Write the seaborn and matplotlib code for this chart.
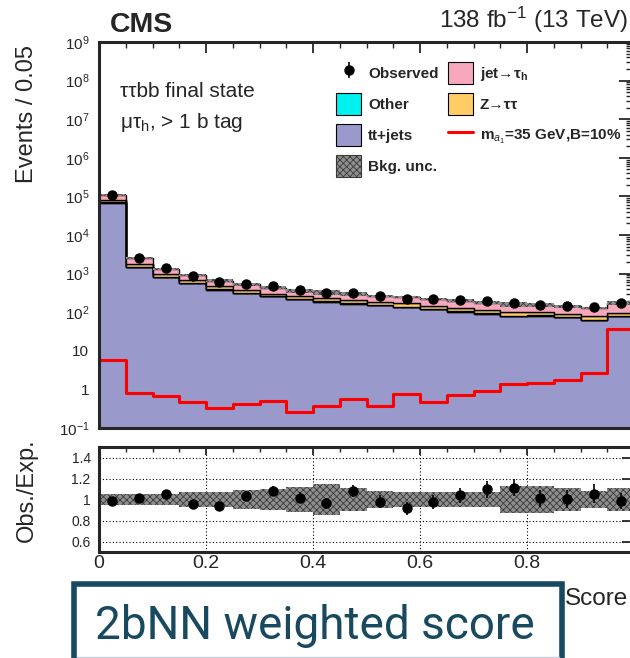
import numpy as np
import pandas as pd
import matplotlib
matplotlib.use("Agg")
import matplotlib.pyplot as plt
import seaborn as sns
from matplotlib.patches import Patch, Rectangle
from matplotlib.lines import Line2D
from matplotlib.ticker import FixedLocator, FixedFormatter, MultipleLocator, LogLocator, NullFormatter

# ---------------- data ----------------
bin_edges = np.round(np.arange(0, 1.0001, 0.05), 2)
tt_jets = [69000, 1480, 816, 570, 385, 314, 258, 216, 188, 167, 155, 136, 119, 104, 92, 80, 82, 74, 63, 80]
other = [1200, 30, 16, 11, 8, 6, 5, 4, 4, 3, 3, 3, 2, 2, 2, 2, 2, 1, 1, 2]
z_tautau = [12000, 300, 150, 105, 75, 65, 40, 38, 41, 33, 31, 30, 27, 25, 22, 20, 16, 15, 14, 16]
jet_fake = [28000, 720, 350, 230, 190, 145, 130, 105, 93, 95, 75, 76, 73, 68, 62, 57, 55, 51, 51, 75]
observed = [109000, 2560, 1405, 881, 617, 550, 469, 369, 314, 322, 258, 225, 216, 207, 195, 177, 157, 142, 136, 170]
bkg_unc_rel = [0.057, 0.057, 0.057, 0.07, 0.07, 0.09, 0.10, 0.115, 0.145, 0.105, 0.08, 0.07, 0.067, 0.075,
               0.075, 0.125, 0.125, 0.105, 0.085, 0.105]
signal = [5.7, 0.81, 0.69, 0.46, 0.33, 0.41, 0.49, 0.26, 0.37, 0.58, 0.37, 0.75, 0.48, 0.72, 0.93, 1.38,
          1.44, 1.8, 2.7, 36]

process_names = ["jet→τh", "Z→ττ", "Other", "tt+jets"]
process_colors = {"jet→τh": "#F8A8BC", "Z→ττ": "#FFCC66", "Other": "#00F2EE", "tt+jets": "#9999CC"}

main_yticks = [1e-1, 1, 10, 1e2, 1e3, 1e4, 1e5, 1e6, 1e7, 1e8, 1e9]
main_yticklabels = [r"$10^{-1}$", "1", "10", r"$10^{2}$", r"$10^{3}$", r"$10^{4}$", r"$10^{5}$",
                    r"$10^{6}$", r"$10^{7}$", r"$10^{8}$", r"$10^{9}$"]
ratio_yticks = [0.6, 0.8, 1.0, 1.2, 1.4]
ratio_yticklabels = ["0.6", "0.8", "1", "1.2", "1.4"]
xticks = [0, 0.2, 0.4, 0.6, 0.8, 1.0]
xticklabels = ["0", "0.2", "0.4", "0.6", "0.8", ""]

# ---------------- style ----------------
sns.set_style("white")
plt.rcParams["font.family"] = ["Liberation Sans", "DejaVu Sans"]
plt.rcParams["mathtext.fontset"] = "custom"
plt.rcParams["mathtext.rm"] = "Liberation Sans"
plt.rcParams["mathtext.it"] = "Liberation Sans:italic"
plt.rcParams["mathtext.bf"] = "Liberation Sans:bold"
plt.rcParams["hatch.linewidth"] = 0.6

W, H = 630, 658
def fx(px):
    return px / W
def fy(py):
    return 1 - py / H

fig = plt.figure(figsize=(W / 100, H / 100), dpi=100)
fig.patch.set_facecolor("white")
ax = fig.add_axes([fx(99), fy(428), 535 / W, 386 / H])
rax = fig.add_axes([fx(99), fy(552), 535 / W, 105 / H])

n_bins = len(bin_edges) - 1
centers = (bin_edges[:-1] + bin_edges[1:]) / 2
df = pd.DataFrame({
    "score": np.tile(centers, 4),
    "events": np.concatenate([jet_fake, z_tautau, other, tt_jets]),
    "process": np.repeat(process_names, n_bins),
})

sns.histplot(data=df, x="score", weights="events", hue="process", hue_order=process_names,
             palette=process_colors, multiple="stack", bins=n_bins, binrange=(0, 1), element="step",
             fill=True, alpha=1, edgecolor="black", linewidth=1.0, legend=False, ax=ax)

total = np.array(tt_jets) + np.array(other) + np.array(z_tautau) + np.array(jet_fake)
unc = np.array(bkg_unc_rel)
obs = np.array(observed, dtype=float)

unc_style = dict(fill=True, facecolor="#8e8e8e", edgecolor="#3a3a3a", hatch="xxxxx", linewidth=0)
ax.stairs(total * (1 + unc), bin_edges, baseline=total * (1 - unc), zorder=3, **unc_style)

sns.histplot(x=centers, weights=signal, bins=n_bins, binrange=(0, 1), element="step", fill=False,
             color="#FF0000", linewidth=2.2, ax=ax, zorder=4)

obs_handle = ax.errorbar(centers, obs, yerr=np.sqrt(obs), fmt="o", color="black", ms=6.5,
                         elinewidth=1.2, capsize=0, zorder=6)

ax.set_yscale("log")
ax.set_xlim(0, 1)
ax.set_ylim(1e-1, 1e9)
ax.set_xlabel("")
ax.set_ylabel("")
ax.yaxis.set_major_locator(FixedLocator(main_yticks))
ax.yaxis.set_major_formatter(FixedFormatter(main_yticklabels))
ax.yaxis.set_minor_locator(LogLocator(base=10, subs=np.arange(2, 10), numticks=100))
ax.yaxis.set_minor_formatter(NullFormatter())
ax.xaxis.set_major_locator(MultipleLocator(0.2))
ax.xaxis.set_minor_locator(MultipleLocator(0.05))
ax.tick_params(which="both", direction="in", top=True, right=True, bottom=False, labelbottom=False)
ax.tick_params(axis="y", which="major", length=11, width=1.3, labelsize=11, pad=7)
ax.tick_params(axis="y", which="minor", length=6, width=1.0)
ax.tick_params(axis="x", which="major", length=8, width=1.3)
ax.tick_params(axis="x", which="minor", length=4.5, width=1.0)
for s in ax.spines.values():
    s.set_linewidth(2.2)
    s.set_zorder(10)

# legend
handles = [obs_handle,
           Patch(facecolor=process_colors["Other"], edgecolor="black", lw=0.8),
           Patch(facecolor=process_colors["tt+jets"], edgecolor="black", lw=0.8),
           Patch(facecolor="#8e8e8e", edgecolor="#3a3a3a", hatch="xxxxx", lw=0.8),
           Patch(facecolor=process_colors["jet→τh"], edgecolor="black", lw=0.8),
           Patch(facecolor=process_colors["Z→ττ"], edgecolor="black", lw=0.8),
           Line2D([0], [0], color="#FF0000", lw=2.2)]
labels = ["Observed", "Other", "tt+jets", "Bkg. unc.",
          r"jet→$\mathregular{\tau_{h}}$", "Z→ττ", r"m$_{a_{1}}$=35 GeV,B=10%"]
ax.legend(handles, labels, ncol=2, loc="upper left", bbox_to_anchor=(0.443, 0.948), frameon=False,
          prop={"family": ["Liberation Sans", "DejaVu Sans"], "weight": "bold", "size": 11},
          handlelength=1.65, handleheight=1.8, labelspacing=0.62, handletextpad=0.45,
          columnspacing=0.6, borderpad=0, borderaxespad=0)

# ---------------- ratio panel ----------------
ratio = obs / total
ratio_err = np.sqrt(obs) / total
rax.stairs(1 + unc, bin_edges, baseline=1 - unc, zorder=2, **unc_style)
rax.errorbar(centers, ratio, yerr=ratio_err, fmt="o", color="black", ms=6.5, elinewidth=1.2,
             capsize=0, zorder=5)
rax.set_xlim(0, 1)
rax.set_ylim(0.5, 1.5)
rax.yaxis.set_major_locator(FixedLocator(ratio_yticks))
rax.yaxis.set_major_formatter(FixedFormatter(ratio_yticklabels))
rax.xaxis.set_major_locator(FixedLocator(xticks))
rax.xaxis.set_major_formatter(FixedFormatter(xticklabels))
rax.xaxis.set_minor_locator(MultipleLocator(0.05))
rax.tick_params(which="both", direction="in", top=True, right=True)
rax.tick_params(axis="y", which="major", length=8.5, width=1.3, labelsize=10, pad=6)
rax.tick_params(axis="x", which="major", length=6, width=1.3, labelsize=14, pad=2)
rax.tick_params(axis="x", which="minor", length=3.5, width=1.0)
rax.grid(True, which="major", linestyle=(0, (1, 2)), color="black", linewidth=0.8)
for s in rax.spines.values():
    s.set_linewidth(2.2)
    s.set_zorder(10)

# ---------------- texts ----------------
fig.text(fx(110), fy(31.7), "CMS", fontsize=20.5, fontweight="bold", ha="left", va="baseline")
fig.text(fx(628), fy(28.3), r"138 fb$^{-1}$ (13 TeV)", fontsize=17.5, ha="right", va="baseline")
fig.text(fx(120), fy(97), "ττbb final state", fontsize=15, ha="left", va="baseline")
fig.text(fx(120), fy(128), r"$\mathregular{\mu\tau_{h}}$, > 1 b tag", fontsize=15, ha="left", va="baseline")
fig.text(fx(27), fy(45), "Events / 0.05", rotation=90, fontsize=17, ha="center", va="top")
fig.text(fx(27), fy(490), "Obs./Exp.", rotation=90, fontsize=17, ha="center", va="center")
fig.text(fx(565), fy(605), "Score", fontsize=17.5, ha="left", va="baseline")

box = Rectangle((fx(74), fy(720)), (562 - 74) / W, (720 - 584) / H, transform=fig.transFigure,
                facecolor="white", edgecolor="#17495f", linewidth=4.0, zorder=20)
fig.patches.append(box)
fig.add_artist(Line2D([fx(77), fx(559)], [fy(657), fy(657)], transform=fig.transFigure,
                      color="#c5ced6", lw=1.0, zorder=21))
fig.text(fx(95), fy(638.5), "2bNN weighted score", fontsize=33, color="#17495f", family="Roboto",
         ha="left", va="baseline", zorder=22)

fig.savefig("out.png", dpi=100)
